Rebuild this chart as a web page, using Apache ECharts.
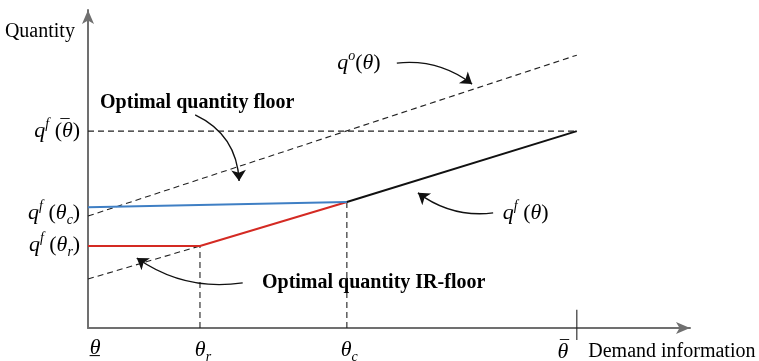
<!DOCTYPE html>
<html>
<head>
<meta charset="utf-8">
<script src="https://cdn.jsdelivr.net/npm/echarts@6/dist/echarts.min.js"></script>
<style>html,body{margin:0;padding:0;background:#fff}#c{width:759px;height:361px}</style>
</head>
<body>
<div id="c"></div>
<script>
// ---- data (axis units) ----
const thetaLow = 0, thetaR = 18.6, thetaC = 43.0, thetaBar = 81.2;
const floorLine = [[0, 38.0], [43.0, 39.6]];              // blue
const irFloorLine = [[0, 25.8], [18.6, 25.8], [43.0, 39.6]]; // red
const qfLine = [[43.0, 39.6], [81.2, 61.9]];              // black
const qoLine = [[0, 35.2], [81.2, 85.8]];                 // dashed q^o
const qoShifted = [[0, 15.4], [18.6, 25.8]];              // lower dashed
const qfBarLevel = [[0, 61.9], [81.2, 61.9]];
const dropR = [[18.6, 0], [18.6, 25.8]];
const dropC = [[43.0, 0], [43.0, 39.6]];
const thetaBarTick = [[81.2, -3.8], [81.2, 5.7]];
const arrows = [
  [[17.8, 67.0], [25.1, 46.2], 0.3],
  [[51.3, 83.3], [63.8, 76.7], 0.2],
  [[67.3, 36.2], [54.8, 42.5], 0.2],
  [[25.7, 14.2], [8.1, 22.0], 0.2]
];
const textLabels = [
  {pos: [-13.8, 93.1], text: '{n|Quantity}', anchor: 'right'},
  {pos: [2.0, 70.8], text: '{b|Optimal quantity floor}', anchor: 'right'},
  {pos: [28.9, 14.2], text: '{b|Optimal quantity IR-floor}', anchor: 'right'},
  {pos: [41.4, 83.3], text: '{i|q}{sup|o}{m|(}{i|θ}{m|)}', anchor: 'right'},
  {pos: [68.9, 36.2], text: '{i|q}{sup|f}{m| (}{i|θ}{m|)}', anchor: 'right'},
  {pos: [-1.3, 61.9], text: '{i|q}{sup|f}{m| (}{ov|‾}{i|θ}{m|)}', anchor: 'left'},
  {pos: [-1.3, 36.2], text: '{i|q}{sup|f}{m| (}{i|θ}{sub|c}{m|)}', anchor: 'left'},
  {pos: [-1.3, 26.1], text: '{i|q}{sup|f}{m| (}{i|θ}{sub|r}{m|)}', anchor: 'left'},
  {pos: [1.2, -6.3], text: '{ul|_}{i|θ}', anchor: 'inside'},
  {pos: [19.1, -6.9], text: '{i|θ}{sub|r}', anchor: 'inside'},
  {pos: [43.4, -6.9], text: '{i|θ}{sub|c}', anchor: 'inside'},
  {pos: [78.9, -7.5], text: '{ov|‾}{i|θ}', anchor: 'inside'},
  {pos: [83.1, -7.5], text: '{n|Demand information}', anchor: 'right'}
];

const FONT = '"Liberation Serif","Times New Roman",serif';
const INK = '#000';
const rich = {
  n: {fontFamily: FONT, fontSize: 20, lineHeight: 28, color: INK},
  m: {fontFamily: FONT, fontSize: 22, lineHeight: 28, color: INK},
  i: {fontFamily: FONT, fontStyle: 'italic', fontSize: 22, lineHeight: 28, color: INK},
  b: {fontFamily: FONT, fontWeight: 'bold', fontSize: 20, lineHeight: 28, color: INK},
  sup: {fontFamily: FONT, fontStyle: 'italic', fontSize: 14, lineHeight: 16, verticalAlign: 'top', color: INK},
  sub: {fontFamily: FONT, fontStyle: 'italic', fontSize: 14, lineHeight: 16, verticalAlign: 'bottom', color: INK},
  ov: {fontFamily: FONT, fontSize: 24, lineHeight: 28, width: 0, align: 'left', padding: [0, -3, 0, 3], color: INK},
  ul: {fontFamily: FONT, fontSize: 20, lineHeight: 28, width: 0, align: 'left', color: INK}
};

function seg(data, color, width, type, z) {
  return {type: 'line', data: data, symbol: 'none', clip: false, silent: true, z: z || 2,
    lineStyle: {color: color, width: width, type: type || 'solid', opacity: 1}, animation: false};
}
const dashed = [6, 4];

const chart = echarts.init(document.getElementById('c'), null, {renderer: 'canvas'});
chart.setOption({
  animation: false,
  backgroundColor: '#fff',
  grid: {left: 88, right: 69, top: 10, bottom: 33},
  xAxis: {type: 'value', min: 0, max: 100,
    axisLine: {onZero: false, symbol: ['none', 'arrow'], symbolSize: [9, 14], lineStyle: {color: '#707070', width: 2}},
    axisTick: {show: false}, axisLabel: {show: false}, splitLine: {show: false}},
  yAxis: {type: 'value', min: 0, max: 100,
    axisLine: {onZero: false, symbol: ['none', 'arrow'], symbolSize: [9, 14], lineStyle: {color: '#707070', width: 2}},
    axisTick: {show: false}, axisLabel: {show: false}, splitLine: {show: false}},
  series: [
    seg(qoLine, '#222', 1.1, dashed),
    seg(qoShifted, '#222', 1.1, dashed),
    seg(qfBarLevel, '#222', 1.1, dashed),
    seg(dropR, '#222', 1.1, dashed),
    seg(dropC, '#222', 1.1, dashed),
    seg(thetaBarTick, '#222', 1.1, 'solid'),
    seg(irFloorLine, '#d42a23', 2, 'solid', 3),
    seg(floorLine, '#3f7fc4', 2, 'solid', 3),
    seg(qfLine, '#111', 2, 'solid', 4),
    {type: 'lines', coordinateSystem: 'cartesian2d', silent: true, z: 5,
      symbol: ['none', 'arrow'], symbolSize: 11,
      lineStyle: {color: '#111', width: 1.4, opacity: 1},
      data: arrows.map(a => ({coords: [a[0], a[1]], lineStyle: {curveness: a[2]}}))},
    {type: 'scatter', clip: false, silent: true, symbolSize: 0, z: 6,
      itemStyle: {opacity: 1},
      data: textLabels.map(t => ({value: t.pos, label: {show: true, position: t.anchor, distance: 0,
        opacity: 1, formatter: t.text, rich: rich, fontFamily: FONT, fontSize: 20, color: INK}}))}
  ]
});
</script>
</body>
</html>
